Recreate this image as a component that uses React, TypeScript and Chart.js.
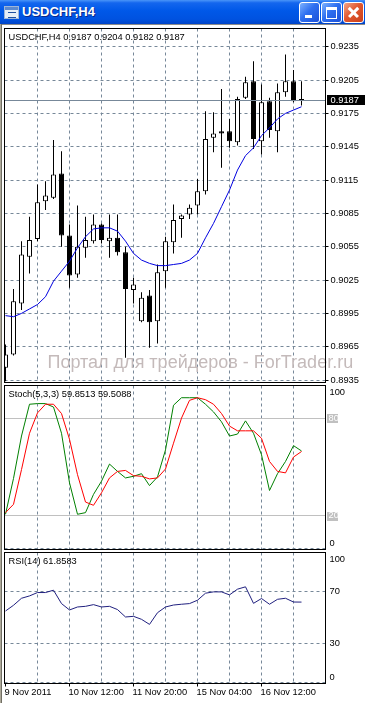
import React, { useEffect, useRef } from 'react';
import { Chart, registerables } from 'chart.js';

Chart.register(...registerables);

// ---------- data ----------
const symbol = 'USDCHF';
const timeframe = 'H4';

const opens = [
  0.8946, 0.8958, 0.9004, 0.9046, 0.9062, 0.9096, 0.9099, 0.9121, 0.9065, 0.9030,
  0.9054, 0.9060, 0.9075, 0.9060, 0.9063, 0.9050, 0.9016, 0.8988, 0.9011, 0.8988,
  0.9033, 0.9059, 0.9080, 0.9084, 0.9092, 0.9105, 0.9153, 0.9159, 0.9159, 0.9149,
  0.9189, 0.9204, 0.9150, 0.9186, 0.9159, 0.9194, 0.9204, 0.9187,
];
const highs = [
  0.8967, 0.9017, 0.9060, 0.9082, 0.9111, 0.9114, 0.9151, 0.9141, 0.9075, 0.9092,
  0.9082, 0.9084, 0.9076, 0.9084, 0.9084, 0.9055, 0.9027, 0.9014, 0.9016, 0.9039,
  0.9064, 0.9093, 0.9084, 0.9093, 0.9116, 0.9177, 0.9176, 0.9197, 0.9170, 0.9190,
  0.9208, 0.9222, 0.9201, 0.9189, 0.9202, 0.9228, 0.9214, 0.9204,
];
const lows = [
  0.8934, 0.8957, 0.8998, 0.9031, 0.9060, 0.9088, 0.9098, 0.9055, 0.9018, 0.9027,
  0.9045, 0.9058, 0.9058, 0.9045, 0.9047, 0.8955, 0.9004, 0.8987, 0.8964, 0.8968,
  0.9018, 0.9049, 0.9063, 0.9080, 0.9084, 0.9102, 0.9140, 0.9126, 0.9144, 0.9146,
  0.9188, 0.9143, 0.9138, 0.9153, 0.9140, 0.9190, 0.9185, 0.9182,
];
const closes = [
  0.8958, 0.9006, 0.9048, 0.9061, 0.9095, 0.9101, 0.9120, 0.9065, 0.9029, 0.9055,
  0.9061, 0.9075, 0.9061, 0.9063, 0.9050, 0.9017, 0.9021, 0.9009, 0.8987, 0.9032,
  0.9060, 0.9079, 0.9083, 0.9090, 0.9105, 0.9152, 0.9157, 0.9157, 0.9150, 0.9188,
  0.9203, 0.9152, 0.9185, 0.9160, 0.9194, 0.9204, 0.9186, 0.9187,
];
const maValues = [
  0.8993, 0.8992, 0.8995, 0.8999, 0.9003, 0.9010, 0.9024, 0.9033, 0.9042, 0.9054,
  0.9064, 0.9071, 0.9072, 0.9072, 0.9069, 0.9060, 0.9049, 0.9043, 0.9040, 0.9038,
  0.9038, 0.9039, 0.9040, 0.9043, 0.9049, 0.9063, 0.9076, 0.9091, 0.9106, 0.9124,
  0.9137, 0.9144, 0.9155, 0.9162, 0.9170, 0.9175, 0.9178, 0.9181,
];
const stochK = [
  21.0, 43.0, 69.0, 88.5, 88.9, 88.9, 86.8, 70.7, 40.3, 21.0,
  22.0, 33.2, 41.3, 51.8, 47.3, 43.3, 44.3, 45.9, 38.6, 43.9,
  60.5, 87.9, 92.5, 92.5, 92.5, 88.5, 83.8, 77.7, 69.0, 70.2,
  78.3, 70.7, 57.5, 35.6, 45.9, 53.4, 63.1, 59.8513,
];
const stochD = [
  22.0, 27.1, 48.4, 70.7, 83.2, 88.5, 88.5, 82.8, 67.0, 45.3,
  28.5, 26.5, 34.2, 43.3, 47.3, 47.9, 44.7, 44.3, 42.7, 43.3,
  48.8, 64.6, 80.0, 90.9, 92.5, 91.3, 88.5, 82.8, 75.1, 72.2,
  72.2, 72.2, 67.6, 53.4, 47.3, 46.4, 56.1, 59.5088,
];
const rsiValues = [
  55.0, 59.4, 64.8, 66.6, 69.2, 69.2, 71.0, 60.7, 55.8, 58.1,
  58.6, 59.9, 58.1, 58.6, 56.1, 50.4, 50.9, 48.6, 44.7, 53.7,
  58.1, 59.6, 60.2, 60.7, 63.3, 68.7, 69.7, 69.7, 67.4, 71.8,
  73.6, 60.9, 64.6, 60.2, 64.0, 64.8, 61.9, 61.8583,
];
const priceTicks = [0.8935, 0.8965, 0.8995, 0.9025, 0.9055, 0.9085, 0.9115, 0.9145, 0.9175, 0.9205, 0.9235];
const bidPrice = 0.9187;
const dateLabels = ['9 Nov 2011', '10 Nov 12:00', '11 Nov 20:00', '15 Nov 04:00', '16 Nov 12:00'];
const dateLabelBars = [0, 8, 16, 24, 32];
const gridBars = [0, 4, 8, 12, 16, 20, 24, 28, 32, 36];
const stochScale = [100, 80, 20, 0];
const stochLevels = [20, 80];
const rsiScale = [100, 70, 30, 0];
const watermarkText = 'Портал для трейдеров - ForTrader.ru';

// ---------- styling ----------
const FONT = '"Liberation Sans", Arial, Helvetica, sans-serif';
const GRID = '#778899';
const SMALL = 9.3;

const barIdx = opens.map((_, i) => i);
const last = opens.length - 1;
const fmt4 = (v: number) => v.toFixed(4);

type SideLabel = { value: number; text: string; boxed?: boolean };
type PanelCfg = {
  header: string;
  frameExtra: number;
  sideLabels?: SideLabel[];
  bid?: number;
  watermark?: string;
};

function panelPlugin(cfg: PanelCfg) {
  return {
    id: 'mtPanel',
    beforeDatasetsDraw(chart: any) {
      if (!cfg.watermark) return;
      const { ctx, chartArea: a } = chart;
      ctx.save();
      ctx.font = `18px ${FONT}`;
      ctx.fillStyle = '#C4BABA';
      ctx.textAlign = 'left';
      ctx.textBaseline = 'alphabetic';
      ctx.fillText(cfg.watermark, a.left + 43, a.bottom - 15);
      ctx.restore();
    },
    afterDatasetsDraw(chart: any) {
      const { ctx, chartArea: a, scales } = chart;
      const ys = scales.y;
      ctx.save();
      ctx.textAlign = 'left';
      ctx.textBaseline = 'middle';
      ctx.font = `${SMALL}px ${FONT}`;
      if (cfg.bid !== undefined) {
        const py = Math.round(ys.getPixelForValue(cfg.bid)) + 0.5;
        ctx.strokeStyle = GRID;
        ctx.lineWidth = 1;
        ctx.beginPath();
        ctx.moveTo(a.left, py);
        ctx.lineTo(a.right, py);
        ctx.stroke();
        ctx.fillStyle = '#000';
        ctx.fillRect(Math.round(a.right) + 1, py - 5.5, 40, 10);
        ctx.fillStyle = '#fff';
        ctx.fillText(fmt4(cfg.bid), a.right + 5, py);
      }
      ctx.strokeStyle = '#000';
      ctx.lineWidth = 1;
      ctx.strokeRect(a.left, a.top, a.right - a.left, a.bottom + cfg.frameExtra - a.top);
      ctx.fillStyle = '#000';
      ctx.fillText(cfg.header, a.left + 4, a.top + 9);
      for (const l of cfg.sideLabels || []) {
        const py = Math.min(Math.max(ys.getPixelForValue(l.value), a.top + 6.5), a.bottom - 5);
        if (l.boxed) {
          ctx.fillStyle = '#C0C0C0';
          ctx.fillRect(Math.floor(a.right) + 2, Math.round(py) - 4, 11, 9);
          ctx.fillStyle = '#fff';
          ctx.fillText(l.text, a.right + 3, py);
        } else {
          ctx.fillStyle = '#000';
          ctx.fillText(l.text, a.right + 4, py);
        }
      }
      ctx.restore();
    },
  };
}

function xScale(showLabels: boolean, axisHeight: number) {
  return {
    type: 'linear',
    min: -0.125,
    max: 40,
    offset: false,
    afterBuildTicks: (s: any) => {
      s.ticks = gridBars.map((v) => ({ value: v }));
    },
    afterFit: (s: any) => {
      s.height = axisHeight;
      s.paddingLeft = 0;
      s.paddingRight = 0;
      s.paddingTop = 0;
      s.paddingBottom = 0;
    },
    grid: {
      offset: false,
      color: (c: any) => (c.tick && c.tick.value === 0 ? 'rgba(0,0,0,0)' : GRID),
      lineWidth: 1,
      drawTicks: showLabels,
      tickLength: 4,
      tickWidth: 1,
      tickColor: (c: any) =>
        c.tick && dateLabelBars.includes(c.tick.value) ? '#000' : 'rgba(0,0,0,0)',
      tickBorderDash: [],
    },
    border: { display: false, dash: [3, 3] },
    ticks: {
      display: showLabels,
      autoSkip: false,
      maxRotation: 0,
      minRotation: 0,
      align: 'start',
      labelOffset: -1,
      padding: 0.5,
      color: '#000',
      font: { family: FONT, size: SMALL },
      callback: (v: any) => {
        const k = dateLabelBars.indexOf(Number(v));
        return k >= 0 ? dateLabels[k] : '';
      },
    },
  };
}

function yBase(min: number, max: number, ticks: number[]) {
  return {
    position: 'right',
    min,
    max,
    afterBuildTicks: (s: any) => {
      s.ticks = ticks.map((v) => ({ value: v }));
    },
    afterFit: (s: any) => {
      s.width = 39.5;
      s.paddingTop = 0;
      s.paddingBottom = 0;
      s.paddingLeft = 0;
      s.paddingRight = 0;
    },
  };
}

const common = {
  responsive: false,
  animation: false,
  devicePixelRatio: 1,
  events: [],
  plugins: { legend: { display: false }, tooltip: { enabled: false }, title: { display: false } },
};

function mainConfig(): any {
  return {
    type: 'bar',
    data: {
      datasets: [
        {
          type: 'bar',
          label: 'wick',
          data: barIdx.map((i) => ({ x: i, y: [lows[i], highs[i]] })),
          backgroundColor: '#000',
          borderWidth: 0,
          barThickness: 1,
          grouped: false,
          inflateAmount: 0,
          order: 3,
        },
        {
          type: 'bar',
          label: 'body',
          data: barIdx.map((i) => ({ x: i, y: [opens[i], closes[i]] })),
          backgroundColor: barIdx.map((i) => (closes[i] > opens[i] ? '#fff' : '#000')),
          borderColor: '#000',
          borderWidth: 1,
          borderSkipped: false,
          barThickness: 5,
          minBarLength: 1,
          grouped: false,
          inflateAmount: 0,
          order: 2,
        },
        {
          type: 'line',
          label: 'MA',
          data: barIdx.map((i) => ({ x: i, y: maValues[i] })),
          borderColor: '#0000E0',
          borderWidth: 1,
          pointRadius: 0,
          tension: 0,
          order: 1,
        },
      ],
    },
    options: {
      ...common,
      layout: { autoPadding: false, padding: { left: 4.5, top: 0.5, right: 0, bottom: 0.5 } },
      scales: {
        x: xScale(false, 0),
        y: {
          ...yBase(0.89328, 0.92514, priceTicks),
          grid: {
            color: GRID,
            lineWidth: 1,
            drawTicks: true,
            tickLength: 3,
            tickWidth: 1,
            tickColor: '#000',
            tickBorderDash: [],
          },
          border: { display: false, dash: [3, 3] },
          ticks: {
            autoSkip: false,
            padding: 2,
            color: '#000',
            font: { family: FONT, size: SMALL },
            callback: (v: any) => Number(v).toFixed(4),
          },
        },
      },
    },
    plugins: [
      panelPlugin({
        header: `${symbol},${timeframe} ${fmt4(opens[last])} ${fmt4(highs[last])} ${fmt4(lows[last])} ${fmt4(closes[last])}`,
        frameExtra: 0,
        bid: bidPrice,
        watermark: watermarkText,
      }),
    ],
  };
}

function stochConfig(): any {
  return {
    type: 'line',
    data: {
      datasets: [
        {
          label: 'K',
          data: barIdx.map((i) => ({ x: i, y: stochK[i] })),
          borderColor: '#008000',
          borderWidth: 1,
          pointRadius: 0,
          tension: 0,
          order: 2,
        },
        {
          label: 'D',
          data: barIdx.map((i) => ({ x: i, y: stochD[i] })),
          borderColor: '#FF0000',
          borderWidth: 1,
          pointRadius: 0,
          tension: 0,
          order: 1,
        },
      ],
    },
    options: {
      ...common,
      layout: { autoPadding: false, padding: { left: 4.5, top: 0.5, right: 0, bottom: 1.5 } },
      scales: {
        x: xScale(false, 0),
        y: {
          ...yBase(0, 100, stochScale),
          grid: {
            color: (c: any) => (c.tick && stochLevels.includes(c.tick.value) ? '#C0C0C0' : GRID),
            lineWidth: 1,
            drawTicks: false,
          },
          border: {
            display: false,
            dash: (c: any) => (c.tick && stochLevels.includes(c.tick.value) ? [] : [3, 3]),
          },
          ticks: { display: false },
        },
      },
    },
    plugins: [
      panelPlugin({
        header: `Stoch(5,3,3) ${fmt4(stochK[last])} ${fmt4(stochD[last])}`,
        frameExtra: 1,
        sideLabels: stochScale.map((v) => ({ value: v, text: String(v), boxed: stochLevels.includes(v) })),
      }),
    ],
  };
}

function rsiConfig(): any {
  return {
    type: 'line',
    data: {
      datasets: [
        {
          label: 'RSI',
          data: barIdx.map((i) => ({ x: i, y: rsiValues[i] })),
          borderColor: '#20207F',
          borderWidth: 1,
          pointRadius: 0,
          tension: 0,
        },
      ],
    },
    options: {
      ...common,
      layout: { autoPadding: false, padding: { left: 4.5, top: 0.5, right: 0, bottom: 0 } },
      scales: {
        x: xScale(true, 20.5),
        y: {
          ...yBase(0, 100, rsiScale),
          grid: { color: GRID, lineWidth: 1, drawTicks: false },
          border: { display: false, dash: [3, 3] },
          ticks: { display: false },
        },
      },
    },
    plugins: [
      panelPlugin({
        header: `RSI(14) ${fmt4(rsiValues[last])}`,
        frameExtra: 1,
        sideLabels: rsiScale.map((v) => ({ value: v, text: String(v) })),
      }),
    ],
  };
}

function TitleButton({ left, close, children }: { left: number; close?: boolean; children?: any }) {
  return (
    <div
      style={{
        position: 'absolute',
        left,
        top: 2,
        width: 19,
        height: 19,
        border: '1px solid #fff',
        borderRadius: 3,
        boxSizing: 'content-box',
        background: close
          ? 'linear-gradient(135deg, #F2A58A 0%, #E2582F 45%, #C9401C 100%)'
          : 'linear-gradient(135deg, #7DB2FF 0%, #2E6FF0 45%, #1C50D8 100%)',
        overflow: 'hidden',
      }}
    >
      {children}
    </div>
  );
}

export default function App() {
  const mainRef = useRef<HTMLCanvasElement>(null);
  const stochRef = useRef<HTMLCanvasElement>(null);
  const rsiRef = useRef<HTMLCanvasElement>(null);

  useEffect(() => {
    const charts = [
      new Chart(mainRef.current as HTMLCanvasElement, mainConfig()),
      new Chart(stochRef.current as HTMLCanvasElement, stochConfig()),
      new Chart(rsiRef.current as HTMLCanvasElement, rsiConfig()),
    ];
    return () => charts.forEach((c) => c.destroy());
  }, []);

  return (
    <div
      style={{
        position: 'absolute',
        left: 0,
        top: 0,
        width: 365,
        height: 703,
        background: '#fff',
        overflow: 'hidden',
        fontFamily: FONT,
      }}
    >
      {/* title bar */}
      <div
        style={{
          position: 'absolute',
          left: 0,
          top: 0,
          width: 365,
          height: 24,
          background:
            'linear-gradient(180deg, #4A95F8 0%, #1466EE 12%, #0058E8 45%, #0052E0 80%, #0044C8 100%)',
        }}
      >
        <div
          style={{
            position: 'absolute',
            left: 4,
            top: 6,
            width: 13,
            height: 11,
            background: '#E6EEF8',
            border: '1px solid #9FB6D8',
            boxSizing: 'content-box',
          }}
        >
          <div style={{ position: 'absolute', left: 0, top: 0, width: 13, height: 3, background: '#5C8AD0' }} />
          <div style={{ position: 'absolute', left: 3, top: 5, width: 8, height: 4, borderTop: '1px solid #2050A0', borderBottom: '1px solid #2050A0' }} />
        </div>
        <div
          style={{
            position: 'absolute',
            left: 22,
            top: 4,
            color: '#fff',
            fontWeight: 'bold',
            fontSize: 13,
            lineHeight: '16px',
            textShadow: '1px 1px #0A2A8A',
            whiteSpace: 'nowrap',
          }}
        >
          {`${symbol},${timeframe}`}
        </div>
        <TitleButton left={299}>
          <div style={{ position: 'absolute', left: 5, top: 12, width: 7, height: 3, background: '#fff' }} />
        </TitleButton>
        <TitleButton left={321}>
          <div
            style={{
              position: 'absolute',
              left: 4,
              top: 4,
              width: 9,
              height: 8,
              borderTop: '3px solid #fff',
              borderLeft: '1px solid #fff',
              borderRight: '1px solid #fff',
              borderBottom: '1px solid #fff',
              boxSizing: 'content-box',
            }}
          />
        </TitleButton>
        <TitleButton left={343} close>
          <div style={{ position: 'absolute', left: 3, top: 8, width: 13, height: 2.5, background: '#fff', transform: 'rotate(45deg)' }} />
          <div style={{ position: 'absolute', left: 3, top: 8, width: 13, height: 2.5, background: '#fff', transform: 'rotate(-45deg)' }} />
        </TitleButton>
      </div>
      <div style={{ position: 'absolute', left: 0, top: 24, width: 365, height: 1, background: '#8A8A8A' }} />
      {/* left window edge */}
      <div style={{ position: 'absolute', left: 0, top: 24, width: 1, height: 679, background: '#ACA899' }} />
      <div style={{ position: 'absolute', left: 1, top: 24, width: 1, height: 679, background: '#716F64' }} />

      <canvas
        ref={mainRef}
        width={365}
        height={355}
        style={{ position: 'absolute', left: 0, top: 28, width: 365, height: 355 }}
      />
      <canvas
        ref={stochRef}
        width={365}
        height={165}
        style={{ position: 'absolute', left: 0, top: 385, width: 365, height: 165 }}
      />
      <canvas
        ref={rsiRef}
        width={365}
        height={151}
        style={{ position: 'absolute', left: 0, top: 552, width: 365, height: 151 }}
      />
    </div>
  );
}
